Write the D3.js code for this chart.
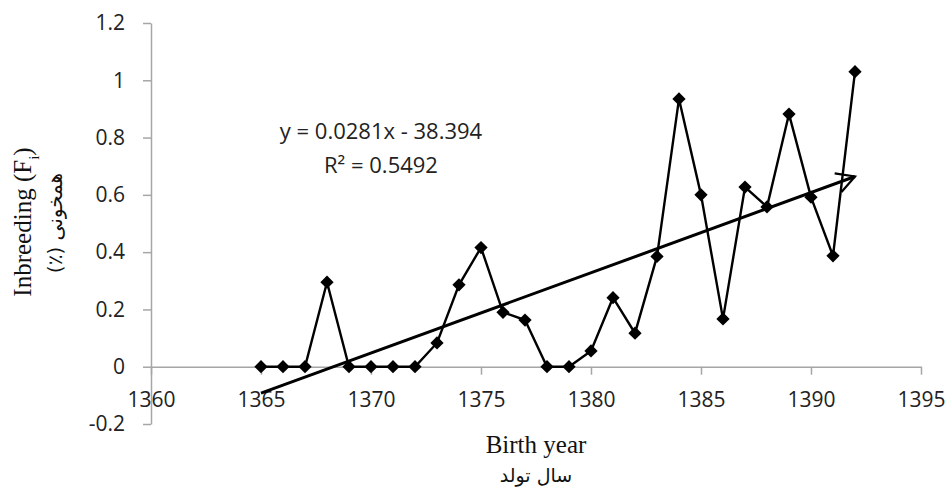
<!DOCTYPE html>
<html>
<head>
<meta charset="utf-8">
<script src="https://cdn.jsdelivr.net/npm/d3@7"></script>
<style>
  body { margin: 0; background: #fff; }
  .tick text { font-family: "Open Sans", sans-serif; font-size: 21px; fill: #222; }
  .axis path, .axis line { stroke: #a6a6a6; stroke-width: 1.5px; }
  .title { font-family: "Liberation Serif", "Times New Roman", serif; fill: #111; }
  .fa { font-family: "DejaVu Sans", sans-serif; fill: #111; }
  .eq { font-family: "Open Sans", sans-serif; font-size: 22px; fill: #222; }
</style>
</head>
<body>
<script>
// birth year vs inbreeding (%)
var years = [1365,1366,1367,1368,1369,1370,1371,1372,1373,1374,1375,1376,1377,1378,
             1379,1380,1381,1382,1383,1384,1385,1386,1387,1388,1389,1390,1391,1392];
var inbreeding = [0,0,0,0.295,0,0,0,0,0.083,0.286,0.416,0.19,0.163,0,
                  0,0.055,0.241,0.117,0.385,0.935,0.6,0.167,0.627,0.558,0.882,0.592,0.387,1.03];

// trend arrow end points (as drawn)
var trendYears = [1365, 1392];
var trendValues = [-0.092, 0.664];

var xTicks = [1360,1365,1370,1375,1380,1385,1390,1395];
var yTicks = [-0.2,0,0.2,0.4,0.6,0.8,1,1.2];
var yTickLabels = ["-0.2","0","0.2","0.4","0.6","0.8","1","1.2"];

var equationLines = ["y = 0.0281x - 38.394", "R\u00B2 = 0.5492"];

var width = 949, height = 490;

var svg = d3.select("body").append("svg")
    .attr("width", width)
    .attr("height", height);

var x = d3.scaleLinear().domain([1360, 1395]).range([151, 921]);
var y = d3.scaleLinear().domain([-0.2, 1.2]).range([424, 23]);

//y axis
svg.append("g")
    .attr("class", "axis")
    .attr("transform", "translate(" + x(1360) + ",0)")
    .call(d3.axisLeft(y).tickValues(yTicks).tickSize(8).tickSizeOuter(0).tickPadding(18)
        .tickFormat(function(d, i){ return yTickLabels[i]; }));

//x axis sits on zero
svg.append("g")
    .attr("class", "axis")
    .attr("transform", "translate(0," + y(0) + ")")
    .call(d3.axisBottom(x).tickValues(xTicks).tickSize(8).tickSizeOuter(0).tickPadding(17)
        .tickFormat(d3.format("d")));

svg.selectAll(".domain").attr("stroke", "#a6a6a6");

//arrow marker
svg.append("defs").append("marker")
    .attr("id", "arrow")
    .attr("viewBox", "0 0 12 12")
    .attr("refX", 10).attr("refY", 6)
    .attr("markerWidth", 8).attr("markerHeight", 8)
    .attr("markerUnits", "strokeWidth")
    .attr("orient", "auto")
  .append("path")
    .attr("d", "M1,1 L10,6 L1,11")
    .attr("fill", "none")
    .attr("stroke", "#000")
    .attr("stroke-width", 1.1);

//data line
var pts = years.map(function(d, i){ return [d, inbreeding[i]]; });
var line = d3.line()
    .x(function(d){ return x(d[0]); })
    .y(function(d){ return y(d[1]); });

svg.append("path")
    .datum(pts)
    .attr("fill", "none")
    .attr("stroke", "#000")
    .attr("stroke-width", 2.4)
    .attr("d", line);

//trend arrow
svg.append("path")
    .datum(trendYears.map(function(d, i){ return [d, trendValues[i]]; }))
    .attr("fill", "none")
    .attr("stroke", "#000")
    .attr("stroke-width", 3)
    .attr("marker-end", "url(#arrow)")
    .attr("d", line);

//diamond markers
svg.selectAll(".pt")
    .data(pts)
    .enter()
    .append("path")
    .attr("class", "pt")
    .attr("d", d3.symbol().type(d3.symbolSquare).size(88))
    .attr("transform", function(d){
        return "translate(" + x(d[0]) + "," + y(d[1]) + ") rotate(45)";
    })
    .attr("fill", "#000");

//regression text
svg.selectAll(".eq")
    .data(equationLines)
    .enter()
    .append("text")
    .attr("class", "eq")
    .attr("x", 381)
    .attr("y", function(d, i){ return 139 + i * 34; })
    .attr("text-anchor", "middle")
    .text(function(d){ return d; });

//axis titles
svg.append("text")
    .attr("class", "title")
    .attr("x", 536).attr("y", 453)
    .attr("text-anchor", "middle")
    .style("font-size", "25px")
    .text("Birth year");

svg.append("text")
    .attr("class", "fa")
    .attr("x", 536).attr("y", 482)
    .attr("text-anchor", "middle")
    .style("font-size", "19px")
    .text("سال تولد");

var yl = svg.append("text")
    .attr("class", "title")
    .attr("transform", "translate(31,222) rotate(-90)")
    .attr("text-anchor", "middle")
    .style("font-size", "25px");
yl.append("tspan").text("Inbreeding (F");
yl.append("tspan").attr("baseline-shift", "sub").style("font-size", "15px").text("i");
yl.append("tspan").text(")");

svg.append("text")
    .attr("class", "fa")
    .attr("transform", "translate(62,223) rotate(-90)")
    .attr("text-anchor", "middle")
    .attr("direction", "rtl")
    .style("font-size", "20px")
    .text("همخونی (٪)");
</script>
</body>
</html>
